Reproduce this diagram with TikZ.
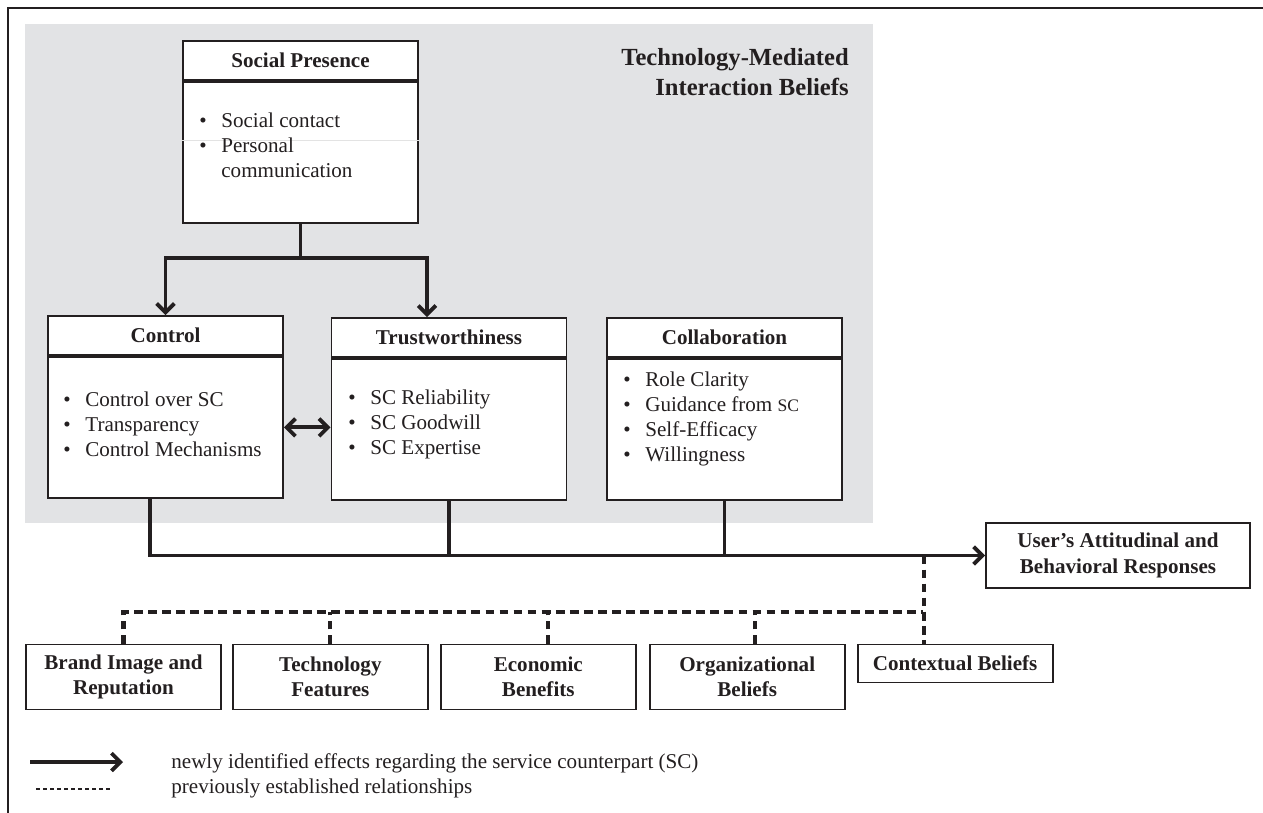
\documentclass[tikz,border=0pt]{standalone}
\usepackage{fontspec}
\setmainfont{Liberation Serif}
\usetikzlibrary{arrows.meta,positioning}
\definecolor{ink}{RGB}{35,31,32}
\definecolor{panel}{RGB}{226,227,229}
\newcommand{\itm}{\makebox[0.44cm][l]{\textbullet}}
\newcommand{\gap}{\hspace*{0.44cm}}

\begin{document}
\begin{tikzpicture}
            [x=0.02cm,y=-0.02cm,every node/.style={text=ink},
             hdr/.style={draw=ink,line width=1.1pt,fill=white,minimum width=4.7cm,minimum height=0.78cm,inner sep=0pt,font=\fontsize{12}{14}\selectfont\bfseries},
             bdy/.style={draw=ink,line width=1.1pt,fill=white,minimum width=4.7cm,minimum height=2.82cm,inner sep=0pt},
             lst/.style={anchor=west,align=left,inner sep=0pt,font=\fontsize{12}{14.2}\selectfont},
             fac/.style={draw=ink,line width=1.1pt,minimum width=3.9cm,minimum height=1.3cm,align=center,inner sep=0pt,font=\fontsize{12}{14.5}\selectfont\bfseries},
             thk/.style={draw=ink,line width=2.2pt},
             arr/.style={thk,-{Straight Barb[length=5pt,width=10pt]}},
             dsh/.style={draw=ink,line width=2.3pt,dash pattern=on 5pt off 3pt}]
            \useasboundingbox (0,0) rectangle (1263,812);
            \draw[ink,line width=1.7pt] (8,900) |- (1300,8);
            \fill[panel] (25,24) rectangle (873,523);
            \node[anchor=east,align=right,inner sep=0pt,font=\fontsize{14}{17}\selectfont\bfseries] (tmi) at (849,72) {Technology-Mediated\\Interaction Beliefs};
            % the four belief boxes
            \node[hdr] (spH) at (300.5,60.5) {Social Presence};
            \node[bdy,below=0pt of spH] (spB) {};
            \draw[gray!22,line width=0.5pt] ([yshift=-1.18cm]spB.north west) -- ([yshift=-1.18cm]spB.north east);
            \node[lst] (spL) at (199,145) {\itm Social contact\\\itm Personal\\\gap communication};
            \node[hdr] (ctrlH) at (165.5,335.5) {Control};
            \node[bdy,below=0pt of ctrlH] (ctrlB) {};
            \node[lst] (ctrlL) at (63,424) {\itm Control over SC\\\itm Transparency\\\itm Control Mechanisms};
            \node[hdr] (trH) at (449,337.5) {Trustworthiness};
            \node[bdy,below=0pt of trH] (trB) {};
            \node[lst] (trL) at (348,424) {\itm SC Reliability\\\itm SC Goodwill\\\itm SC Expertise};
            \node[hdr] (clH) at (724.5,337.5) {Collaboration};
            \node[bdy,below=0pt of clH] (clB) {};
            \node[lst] (clL) at (623,419) {\itm Role Clarity\\\itm Guidance from {\fontsize{10}{12}\selectfont SC}\\\itm Self-Efficacy\\\itm Willingness};
            % outcome and the other beliefs
            \node[fac,minimum width=5.28cm] (usr) at (1118,555.5) {User's Attitudinal and\\Behavioral Responses};
            \node[fac] (brand) at (123.5,677) {Brand Image and\\Reputation};
            \node[fac,right=0.2cm of brand] (tech) {Technology\\Features};
            \node[fac,right=0.22cm of tech] (econ) {Economic\\Benefits};
            \node[fac,right=0.24cm of econ] (org) {Organizational\\Beliefs};
            \node[fac,minimum height=0.76cm,right=0.22cm of org.north east,anchor=north west] (ctx) {Contextual Beliefs};
            % new effects
            \draw[arr] (spB.south) -- ++(0,34) coordinate (split) -| (ctrlH.north);
            \draw[arr] (split) -| ([xshift=-0.44cm]trH.north);
            \draw[thk,{Straight Barb[length=5pt,width=10pt]}-{Straight Barb[length=5pt,width=10pt]}] (ctrlB.east) -- (ctrlB.east -| trB.west);
            \draw[arr] ([xshift=-0.31cm]ctrlB.south) |- (usr.west);
            \draw[thk] (trB.south) -- (trB.south |- usr.west);
            \draw[thk] (clB.south) -- (clB.south |- usr.west);
            % established relationships
            \coordinate (tap) at ([xshift=-0.63cm]ctx.north |- usr.west);
            \coordinate (bus) at (923,612);
            \draw[dsh] (tap) -- (tap |- ctx.north);
            \draw[dsh] (brand.north) |- (bus);
            \draw[dsh] (tech.north) -- (tech.north |- bus);
            \draw[dsh] ([xshift=0.2cm]econ.north) -- +(0,-33);
            \draw[dsh] ([xshift=0.16cm]org.north) -- +(0,-33);
            % legend
            \coordinate (la) at (30,762);
            \coordinate (lb) at (123,762);
            \coordinate (lc) at (36,789);
            \coordinate (ld) at (113,789);
            \draw[arr] (la) -- (lb);
            \draw[ink,line width=0.6pt,dash pattern=on 2.4pt off 1.6pt] (lc) -- (ld);
            \node[lst] (leg1) at (171,763) {newly identified effects regarding the service counterpart (SC)};
            \node[lst] (leg2) at (171,788) {previously established relationships};
        \end{tikzpicture}
\end{document}
